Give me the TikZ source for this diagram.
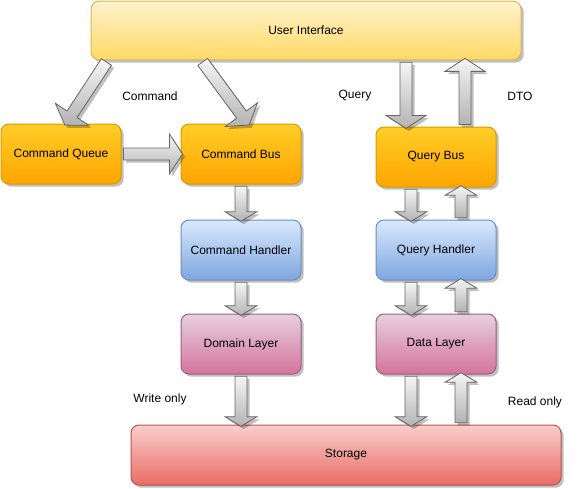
\documentclass[tikz,border=0pt]{standalone}
\usepackage{fontspec}
\setmainfont{Liberation Sans}
\usetikzlibrary{shapes.arrows,shadows,calc}

\definecolor{uitop}{HTML}{FFF2CC}
\definecolor{uibot}{HTML}{FFD966}
\definecolor{uiline}{HTML}{D6B656}
\definecolor{bustop}{HTML}{FFCD28}
\definecolor{busbot}{HTML}{FFA500}
\definecolor{busline}{HTML}{D79B00}
\definecolor{handtop}{HTML}{DAE8FC}
\definecolor{handbot}{HTML}{7EA6E0}
\definecolor{handline}{HTML}{6C8EBF}
\definecolor{laytop}{HTML}{E6D0DE}
\definecolor{laybot}{HTML}{D5739D}
\definecolor{layline}{HTML}{996185}
\definecolor{sttop}{HTML}{F8CECC}
\definecolor{stbot}{HTML}{EA6B66}
\definecolor{stline}{HTML}{B85450}
\definecolor{arrlight}{HTML}{F5F5F5}
\definecolor{arrdark}{HTML}{B3B3B3}
\definecolor{arrline}{HTML}{666666}

% big grey arrow from one point to another
\newcommand\fatarrow[3][]{%
  \path let \p1=(#2), \p2=(#3), \n1={atan2(\y2-\y1,\x2-\x1)}, \n2={veclen(\x2-\x1,\y2-\y1)} in
    ($(\p1)!0.5!(\p2)$) node[blockarrow, #1, rotate=\n1, minimum height=\n2] {};}

\begin{document}
\begin{tikzpicture}[x=0.75pt, y=-0.75pt,
    font=\fontsize{9}{11}\selectfont,
    shade/.style={drop shadow={shadow xshift=2pt, shadow yshift=-2pt, opacity=0.25, fill=black}},
    box/.style={draw, rounded corners=6pt, minimum width=90pt, minimum height=45pt, inner sep=0pt, line width=0.75pt, shade},
    uibox/.style={box, top color=uitop, bottom color=uibot, draw=uiline},
    busbox/.style={box, top color=bustop, bottom color=busbot, draw=busline},
    handbox/.style={box, top color=handtop, bottom color=handbot, draw=handline},
    laybox/.style={box, top color=laytop, bottom color=laybot, draw=layline},
    stbox/.style={box, top color=sttop, bottom color=stbot, draw=stline},
    blockarrow/.style={single arrow, draw=arrline, line width=0.6pt, top color=arrlight, bottom color=arrdark,
        inner xsep=0pt, inner ysep=4.2pt, single arrow head extend=7.5pt, single arrow tip angle=118, shade},
    widehead/.style={single arrow head extend=10.5pt, single arrow tip angle=114}]
    \useasboundingbox (0,0) rectangle (586,489);

    % boxes
    \node[uibox, minimum width=322.5pt, minimum height=44pt] (ui) at (306,30.5) {User Interface};
    \node[busbox] (cq) at (61,154) {Command Queue};
    \node[busbox] (cb) at (241,154) {Command Bus};
    \node[handbox] (ch) at (241,250) {Command Handler};
    \node[laybox] (dl) at (241,344) {Domain Layer};
    \node[busbox] (qb) at (436,157) {Query Bus};
    \node[handbox] (qh) at (436,250) {Query Handler};
    \node[laybox] (da) at (436,344) {Data Layer};
    \node[stbox, minimum width=322.5pt] (st) at (346,455) {Storage};

    % labels
    \node (cmdlbl) at (150,96) {Command};
    \node (qrylbl) at (355,96) {Query};
    \node (dtolbl) at (520,96) {DTO};
    \node (wrlbl) at (160,399) {Write only};
    \node (rdlbl) at (535,402) {Read only};

    % command side
    \fatarrow[widehead]{$(ui.south west)+(17,0)$}{$(cq.north)+(5,0)$}
    \fatarrow[widehead]{$(ui.south west)+(111,0)$}{$(cb.north)+(7,0)$}
    \fatarrow[widehead]{cq.east}{cb.west}
    \fatarrow{cb.south}{ch.north}
    \fatarrow{ch.south}{dl.north}
    \fatarrow{dl.south}{dl.south |- st.north}

    % query side
    \coordinate (qdown) at ($(qb.north)+(-30,0)$);
    \coordinate (dtoup) at ($(qb.north)+(29,0)$);
    \coordinate (rddown) at ($(da.south)+(-25,0)$);
    \coordinate (rdup) at ($(da.south)+(25,0)$);
    \fatarrow[widehead]{qdown |- ui.south}{qdown}
    \fatarrow[widehead]{dtoup}{dtoup |- ui.south}
    \fatarrow{$(qb.south)+(-25,0)$}{$(qh.north)+(-25,0)$}
    \fatarrow{$(qh.north)+(25,0)$}{$(qb.south)+(25,0)$}
    \fatarrow{$(qh.south)+(-25,0)$}{$(da.north)+(-25,0)$}
    \fatarrow{$(da.north)+(25,0)$}{$(qh.south)+(25,0)$}
    \fatarrow{rddown}{rddown |- st.north}
    \fatarrow{rdup |- st.north}{rdup}
\end{tikzpicture}
\end{document}
